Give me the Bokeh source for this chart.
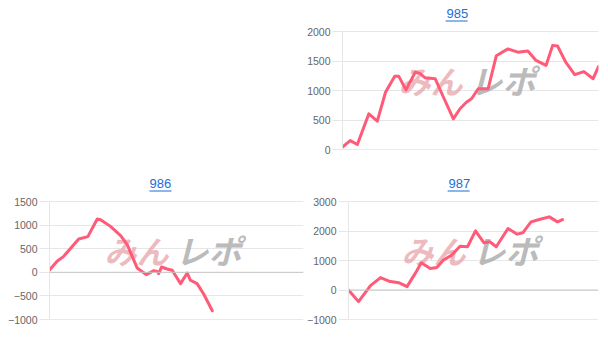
from bokeh.plotting import figure
from bokeh.models import FixedTicker, Span, Label, Spacer, Range1d
from bokeh.layouts import row, column
from bokeh.core.properties import value
from bokeh.embed import file_html
from bokeh.resources import INLINE

# ---- data (x = position within the session, percent of the axis) ----
titles = ["985", "986", "987"]

x985 = [0, 3.0, 5.8, 10.3, 13.6, 16.8, 20.4, 22.0, 24.8, 28.4, 30.2, 32.3, 36.2, 39.4,
        43.3, 45.9, 48.4, 50.4, 53.0, 56.9, 60.1, 64.6, 68.5, 72.4, 75.6, 79.5, 82.1,
        84.0, 87.2, 90.7, 94.3, 97.9, 100]
y985 = [40, 150, 85, 605, 480, 970, 1240, 1240, 1010, 1310, 1290, 1215, 1200, 890,
        520, 690, 800, 860, 1030, 1030, 1590, 1705, 1650, 1670, 1510, 1425, 1765,
        1755, 1480, 1270, 1320, 1200, 1405]

x986 = [0, 3.0, 5.6, 11.5, 15.1, 18.8, 20.1, 24.0, 28.0, 30.6, 34.5, 38.1, 41.1, 42.4,
        43.0, 44.1, 46.3, 48.3, 51.6, 54.2, 55.5, 58.1, 60.7, 64.1]
y986 = [50, 233, 338, 705, 755, 1130, 1114, 973, 776, 585, 92, -49, 35, 20,
        -28, 113, 70, 42, -240, -14, -169, -240, -460, -815]

x987 = [0, 4.0, 8.8, 12.8, 16.2, 20.1, 23.4, 26.7, 29.1, 32.7, 35.3, 38.0, 41.3, 44.6,
        47.6, 50.8, 54.2, 56.5, 59.1, 63.8, 67.5, 69.7, 73.0, 76.3, 80.3, 83.6, 85.6]
y987 = [0, -394, 150, 420, 300, 248, 113, 563, 924, 732, 766, 1014, 1183, 1480,
        1465, 2006, 1600, 1634, 1465, 2085, 1893, 1938, 2310, 2389, 2479, 2310, 2389]

ticks985 = [0, 500, 1000, 1500, 2000]
ticks986 = [-1000, -500, 0, 500, 1000, 1500]
ticks987 = [-1000, 0, 1000, 2000, 3000]

LINE = "#ff5a78"
GRID = "#e6e6e6"
TXT = "#666666"
LINK = "#1a6ed8"
TICK_SPAN_PX = 118  # pixel distance between lowest and highest tick


def make(title, xs, ys, ticks, left, right, top_px, bottom, title_off):
    w = 304 - left - right
    vpp = (ticks[-1] - ticks[0]) / TICK_SPAN_PX
    p = figure(width=304, height=176, output_backend="svg", toolbar_location=None,
               title=None,
               x_range=Range1d(0, 100),
               y_range=Range1d(ticks[0], ticks[-1] + top_px * vpp),
               min_border_left=left, min_border_right=right,
               min_border_top=0, min_border_bottom=bottom)
    p.outline_line_color = None
    p.background_fill_color = "white"
    p.border_fill_color = "white"
    p.xaxis.visible = False
    p.xgrid.visible = False

    ax = p.yaxis[0]
    ax.ticker = FixedTicker(ticks=ticks)
    ax.bounds = (ticks[0], ticks[-1])
    ax.minor_tick_line_color = None
    ax.major_tick_out = 10
    ax.major_tick_in = 0
    ax.major_tick_line_color = GRID
    ax.axis_line_color = GRID
    ax.major_label_standoff = 2
    ax.major_label_text_color = TXT
    ax.major_label_text_font = "Liberation Sans"
    ax.major_label_text_font_size = "10.5px"

    p.ygrid.ticker = FixedTicker(ticks=ticks)
    p.ygrid.grid_line_color = GRID

    p.add_layout(Span(location=ticks[0], dimension="width", line_color="#d4d4d4", line_width=1))
    if ticks[0] != 0:
        p.add_layout(Span(location=0, dimension="width", line_color="#c6c6c6", line_width=1))

    # watermark logo
    mid = (ticks[0] + ticks[-1]) / 2
    p.add_layout(Label(x=50, y=mid, x_offset=-8, y_offset=11, text="みん", text_align="right",
                       text_baseline="middle", text_font="Noto Sans CJK JP",
                       text_font_style="bold italic", text_font_size="32px",
                       text_color="#e9a9ae", text_alpha=0.8, level="underlay"))
    p.add_layout(Label(x=50, y=mid, x_offset=-1, y_offset=11, text="レポ", text_align="left",
                       text_baseline="middle", text_font="Noto Sans CJK JP",
                       text_font_style="bold italic", text_font_size="33px",
                       text_color="#a9a9a9", text_alpha=0.8, level="underlay"))

    # title link with underline, above the top tick
    p.text(x=[0], y=[ticks[-1]], text=[title], x_offset=title_off, y_offset=-18,
           text_baseline="alphabetic", text_align="left",
           text_font=value("Liberation Sans"), text_font_size="13px", text_color=LINK)
    p.rect(x=[(title_off + 11) * 100 / w], y=[ticks[-1] + 10.5 * vpp], width=22, height=1,
           width_units="screen", height_units="screen", fill_color=LINK, line_color=None)

    p.line(xs, ys, line_color=LINE, line_width=3, line_join="round", line_cap="round")
    return p


p985 = make(titles[0], x985, y985, ticks985, 36, 10, 31, 27, 104)
p986 = make(titles[1], x986, y986, ticks986, 49, 1, 25, 33, 100)
p987 = make(titles[2], x987, y987, ticks987, 42, 10, 25, 33, 100)

layout = column(row(Spacer(width=304, height=176), p985), row(p986, p987))

open("out.html", "w").write(file_html(layout, INLINE))
